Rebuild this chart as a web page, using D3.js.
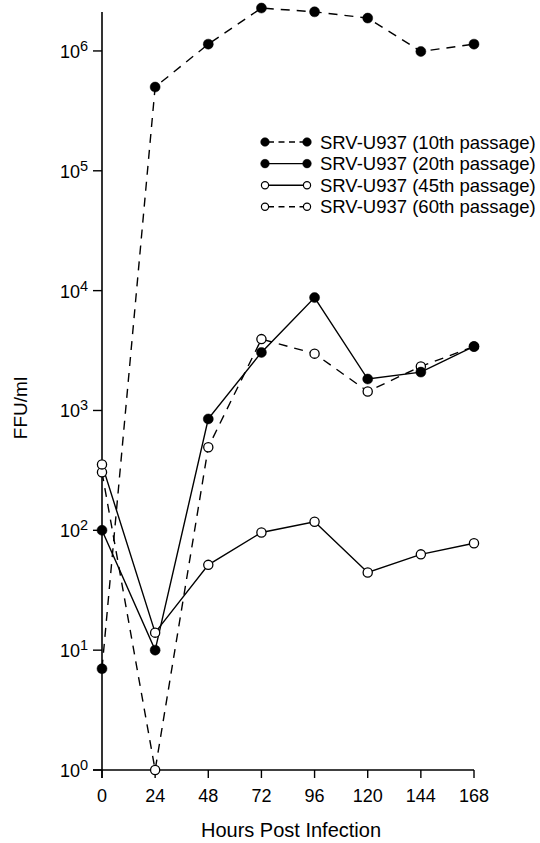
<!DOCTYPE html>
<html>
<head>
<meta charset="utf-8">
<script src="https://cdn.jsdelivr.net/npm/d3@7"></script>
<style>
  html, body { margin: 0; padding: 0; background: #fff; }
  svg { display: block; font-family: "Liberation Sans", Arial, Helvetica, sans-serif; }
</style>
</head>
<body>
<svg id="chart" width="540" height="843"></svg>
<script>
// Sampling times (hours post infection)
const hours = [0, 24, 48, 72, 96, 120, 144, 168];

// Virus titres (FFU/ml) for each passage of SRV in U937 cells
const passage10 = [7, 500000, 1140000, 2280000, 2120000, 1880000, 990000, 1140000];
const passage20 = [100, 10, 850, 3050, 8750, 1830, 2090, 3420];
const passage45 = [355, 14, 51.5, 96, 118, 44.5, 63, 78];
const passage60 = [305, 1, 494, 3940, 2980, 1440, 2330, 3420];

// Legend / series labels
const seriesLabels = [
  "SRV-U937 (10th passage)",
  "SRV-U937 (20th passage)",
  "SRV-U937 (45th passage)",
  "SRV-U937 (60th passage)"
];

// Axis ticks
const xTicks = [0, 24, 48, 72, 96, 120, 144, 168];
const yTickExponents = [0, 1, 2, 3, 4, 5, 6];

const xTitle = "Hours Post Infection";
const yTitle = "FFU/ml";

// Series styling: filled/open markers, solid/dashed lines
const series = [
  { label: seriesLabels[3], values: passage60, filled: false, dashed: true },
  { label: seriesLabels[2], values: passage45, filled: false, dashed: false },
  { label: seriesLabels[1], values: passage20, filled: true, dashed: false },
  { label: seriesLabels[0], values: passage10, filled: true, dashed: true }
];
const legendOrder = [3, 2, 1, 0];

const svg = d3.select("#chart");

const x = d3.scaleLinear().domain([0, 168]).range([102, 474]);
const y = d3.scaleLog().domain([1, Math.pow(10, 6.325)]).range([770, 12]);

const axisColor = "#000";

// Y axis line and ticks
const yAxis = svg.append("g");
yAxis.append("line")
  .attr("x1", x(0)).attr("x2", x(0))
  .attr("y1", y.range()[1]).attr("y2", y(1) + 8)
  .attr("stroke", axisColor).attr("stroke-width", 1.6);
const yt = yAxis.selectAll("g.ytick").data(yTickExponents).join("g")
  .attr("class", "ytick")
  .attr("transform", d => `translate(0,${y(Math.pow(10, d))})`);
yt.append("line")
  .attr("x1", x(0) - 9).attr("x2", x(0))
  .attr("stroke", axisColor).attr("stroke-width", 1.4);
const ylab = yt.append("text")
  .attr("x", x(0) - 14)
  .attr("y", 7)
  .attr("text-anchor", "end")
  .attr("font-size", 18)
  .attr("fill", "#000");
ylab.append("tspan").text("10");
ylab.append("tspan").attr("dy", -7).attr("font-size", 14.5).text(d => d);

// X axis line and ticks
const xAxis = svg.append("g");
xAxis.append("line")
  .attr("x1", x(0) - 9).attr("x2", x(168))
  .attr("y1", y(1)).attr("y2", y(1))
  .attr("stroke", axisColor).attr("stroke-width", 1.6);
const xt = xAxis.selectAll("g.xtick").data(xTicks).join("g")
  .attr("class", "xtick")
  .attr("transform", d => `translate(${x(d)},${y(1)})`);
xt.append("line").attr("y1", 0).attr("y2", 8)
  .attr("stroke", axisColor).attr("stroke-width", 1.4);
xt.append("text")
  .attr("y", 32)
  .attr("text-anchor", "middle")
  .attr("font-size", 18)
  .attr("fill", "#000")
  .text(d => d);

// Axis titles
svg.append("text")
  .attr("x", 291).attr("y", 837)
  .attr("text-anchor", "middle")
  .attr("font-size", 20)
  .text(xTitle);
svg.append("text")
  .attr("transform", "translate(27,408) rotate(-90)")
  .attr("text-anchor", "middle")
  .attr("font-size", 19)
  .text(yTitle);

// Lines
const line = d3.line()
  .x((d, i) => x(hours[i]))
  .y(d => y(d));

const plot = svg.append("g");
series.forEach(s => {
  plot.append("path")
    .datum(s.values)
    .attr("d", line)
    .attr("fill", "none")
    .attr("stroke", "#000")
    .attr("stroke-width", 1.4)
    .attr("stroke-dasharray", s.dashed ? "9,7" : null);
});

// Markers
series.forEach(s => {
  plot.append("g").selectAll("circle")
    .data(s.values)
    .join("circle")
    .attr("cx", (d, i) => x(hours[i]))
    .attr("cy", d => y(d))
    .attr("r", s.filled ? 5 : 4.6)
    .attr("fill", s.filled ? "#000" : "#fff")
    .attr("stroke", "#000")
    .attr("stroke-width", s.filled ? 0.5 : 1.3);
});

// Legend
const legend = svg.append("g");
const legendRows = legendOrder.map(i => series[i]);
const lg = legend.selectAll("g").data(legendRows).join("g")
  .attr("transform", (d, i) => `translate(0,${142 + i * 21.6})`);
lg.append("line")
  .attr("x1", 265).attr("x2", 307)
  .attr("stroke", "#000").attr("stroke-width", 1.4)
  .attr("stroke-dasharray", d => d.dashed ? "6,4.5" : null)
  .attr("stroke-dashoffset", d => d.dashed ? -3 : null);
[265, 307].forEach(cx => {
  lg.append("circle")
    .attr("cx", cx).attr("cy", 0)
    .attr("r", d => d.filled ? 4.3 : 3.6)
    .attr("fill", d => d.filled ? "#000" : "#fff")
    .attr("stroke", "#000")
    .attr("stroke-width", d => d.filled ? 0.5 : 1.2);
});
lg.append("text")
  .attr("x", 320).attr("y", 6.5)
  .attr("font-size", 18.5)
  .text(d => d.label);
</script>
</body>
</html>
